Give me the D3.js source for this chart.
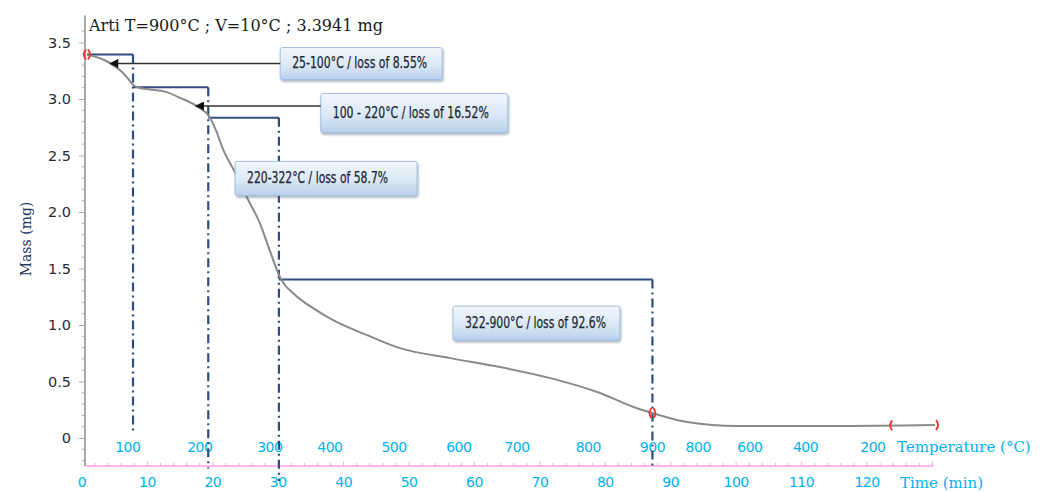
<!DOCTYPE html>
<html>
<head>
<meta charset="utf-8">
<script src="https://cdn.jsdelivr.net/npm/d3@7"></script>
<style>
  html, body { margin: 0; padding: 0; background: #fff; }
  svg { display: block; }
</style>
</head>
<body>
<svg id="chart" width="1046" height="492"></svg>
<script>
// Thermogravimetric curve: sample mass (mg) against time (min)
const timeMin = [0.76, 2.0, 3.4, 4.74, 6.0, 7.1, 7.8, 8.7, 10.4, 12.7, 15.0, 18.0, 19.4, 20.5, 21.6, 23.4, 25.2, 27.2, 28.7,
  30.3, 31.04, 32.11, 33.33, 35.32, 38.38, 43.6, 48.6, 56.3, 63.9, 71.6, 79.2, 84.3, 87.2, 92.5, 100.2, 114.8, 130.4];
const massMg = [3.394, 3.375, 3.345, 3.30, 3.245, 3.175, 3.125, 3.10, 3.085, 3.065, 3.01, 2.92, 2.85, 2.72, 2.55, 2.35, 2.13, 1.90, 1.66,
  1.42, 1.352, 1.290, 1.229, 1.149, 1.043, 0.91, 0.795, 0.707, 0.628, 0.530, 0.398, 0.274, 0.221, 0.141, 0.106, 0.106, 0.115];

const initialMass = 3.3941;
const titleText = "Arti T=900°C ; V=10°C ;  3.3941 mg";

// Decomposition stages: boundary times and cumulative loss (%) at each boundary
const stageTimes = [0.76, 7.8, 19.3, 30.1, 87.2];
const stageLoss = [0, 8.55, 16.52, 58.7, 92.6];
const stageLabels = ["25-100°C / loss of 8.55%", "100 - 220°C / loss of  16.52%", "220-322°C  / loss of 58.7%", "322-900°C  / loss of 92.6%"];
const guideBottomMg = [0.05, -0.27, -0.38, -0.28];

// Arrows from the first two labels to the curve (time of the arrow tip)
const arrowTimes = [4.3, 17.4];

// Axis ticks
const massTicks = [0, 0.5, 1.0, 1.5, 2.0, 2.5, 3.0, 3.5];
const timeTicks = [0, 10, 20, 30, 40, 50, 60, 70, 80, 90, 100, 110, 120];
const tempLabels = ["100", "200", "300", "400", "500", "600", "700", "800", "900", "800", "600", "400", "200"];
const tempLabelTimes = [7.0, 18.0, 28.7, 37.9, 47.7, 57.6, 66.5, 77.4, 87.2, 94.2, 102.1, 110.6, 120.9];

// Cursor markers on the curve
const cursorTimes = [0.76, 87.2, 124.0, 130.4];
const cursorKinds = ["both", "both", "left", "right"];

// ---------- layout ----------
const svg = d3.select("#chart");
const x = d3.scaleLinear().domain([0, 120]).range([82, 867]);
const y = d3.scaleLinear().domain([0, 3.5]).range([438, 42.5]);
const axisX = 85;
const massMin = -0.247, massMax = 3.74;
const timeEnd = 130.2;

const boxLayout = [
  { t: 30.3, m: 3.456, w: 162, h: 32, textW: 135 },
  { t: 36.5, m: 3.049, w: 187, h: 39, textW: 156 },
  { t: 23.4, m: 2.448, w: 182, h: 34, textW: 141 },
  { t: 56.7, m: 1.167, w: 167, h: 34, textW: 141 }
];

const navy = "#2f4d80";
const cyan = "#00b2ee";
const pink = "#ff9ff0";
const serif = "'DejaVu Serif', 'Liberation Serif', serif";
const sans = "'DejaVu Sans', Verdana, sans-serif";

const defs = svg.append("defs");
const grad = defs.append("linearGradient").attr("id", "boxFill").attr("x1", 0).attr("y1", 0).attr("x2", 0).attr("y2", 1);
grad.append("stop").attr("offset", "0%").attr("stop-color", "#f2f7fd");
grad.append("stop").attr("offset", "55%").attr("stop-color", "#dbe8f6");
grad.append("stop").attr("offset", "100%").attr("stop-color", "#b9d1ec");
const shadow = defs.append("filter").attr("id", "shadow").attr("x", "-10%").attr("y", "-20%").attr("width", "130%").attr("height", "160%");
shadow.append("feDropShadow").attr("dx", 1).attr("dy", 2).attr("stdDeviation", 1.3).attr("flood-color", "#556677").attr("flood-opacity", 0.45);
defs.append("marker").attr("id", "arrowHead").attr("viewBox", "0 0 10 10").attr("refX", 9).attr("refY", 5)
  .attr("markerWidth", 11).attr("markerHeight", 9).attr("markerUnits", "userSpaceOnUse").attr("orient", "auto")
  .append("path").attr("d", "M0,0 L10,5 L0,10 Z").attr("fill", "#111");

// ---------- mass axis ----------
const yAxisG = svg.append("g").attr("transform", `translate(${axisX},0)`);
yAxisG.append("line").attr("x1", 0).attr("x2", 0).attr("y1", y(massMax)).attr("y2", y(massMin))
  .attr("stroke", "#a8a8a8").attr("stroke-width", 2);
const minor = d3.range(-2, 37).map(d => d / 10).filter(d => Math.abs(d * 2 - Math.round(d * 2)) > 1e-6);
yAxisG.selectAll("line.minor").data(minor).join("line").attr("class", "minor")
  .attr("x1", -3).attr("x2", 0).attr("y1", d => y(d)).attr("y2", d => y(d)).attr("stroke", "#a8a8a8").attr("stroke-width", 1);
const yAxis = d3.axisLeft(y).tickValues(massTicks).tickSize(6).tickPadding(8)
  .tickFormat(d => d === 0 ? "0" : d3.format(".1f")(d));
const yAx = svg.append("g").attr("transform", `translate(${axisX},0)`).call(yAxis);
yAx.select(".domain").remove();
yAx.selectAll(".tick line").attr("stroke", "#a8a8a8");
yAx.selectAll(".tick text").attr("fill", "#2a2a30").attr("font-family", sans).attr("font-size", 14.5);

svg.append("text").attr("transform", `translate(31,239) rotate(-90)`).attr("text-anchor", "middle")
  .attr("font-family", serif).attr("font-size", 14).attr("fill", "#1f3864")
  .text("Mass (mg)");

// ---------- time axis (pink) ----------
const tAxisY = y(massMin);
svg.append("line").attr("x1", axisX).attr("x2", x(timeEnd)).attr("y1", tAxisY).attr("y2", tAxisY)
  .attr("stroke", pink).attr("stroke-width", 1.5);
svg.selectAll("line.tminor").data(d3.range(2, 131, 2)).join("line").attr("class", "tminor")
  .attr("x1", d => x(d)).attr("x2", d => x(d)).attr("y1", tAxisY).attr("y2", d => tAxisY - (d % 10 === 0 ? 4 : 3))
  .attr("stroke", pink).attr("stroke-width", 1);
svg.selectAll("text.time").data(timeTicks).join("text").attr("class", "time")
  .attr("x", d => x(d)).attr("y", tAxisY + 21).attr("text-anchor", "middle")
  .attr("font-family", sans).attr("font-size", 14).attr("fill", cyan)
  .style("letter-spacing", "-0.5px").text(d => d);
svg.append("text").attr("x", 900).attr("y", tAxisY + 22).attr("font-family", serif)
  .attr("font-size", 15).attr("fill", cyan).text("Time (min)");

// ---------- temperature labels ----------
svg.selectAll("text.temp").data(tempLabels).join("text").attr("class", "temp")
  .attr("x", (d, i) => x(tempLabelTimes[i])).attr("y", y(0) + 14).attr("text-anchor", "middle")
  .attr("font-family", sans).attr("font-size", 14).attr("fill", cyan)
  .style("letter-spacing", "-0.5px").text(d => d);
svg.append("text").attr("x", 897).attr("y", y(0) + 14).attr("font-family", serif)
  .attr("font-size", 15).attr("fill", cyan).text("Temperature (°C)");

// ---------- title ----------
svg.append("text").attr("x", 89).attr("y", 31).attr("font-family", serif)
  .attr("font-size", 16).attr("fill", "#1a1a1a").text(titleText);

// ---------- stage guides ----------
const stageMass = stageLoss.map(p => initialMass * (1 - p / 100));
const guides = svg.append("g");
for (let i = 0; i < 4; i++) {
  guides.append("line").attr("x1", x(stageTimes[i])).attr("x2", x(stageTimes[i + 1]))
    .attr("y1", y(stageMass[i])).attr("y2", y(stageMass[i])).attr("stroke", navy).attr("stroke-width", 2);
  guides.append("line").attr("x1", x(stageTimes[i + 1])).attr("x2", x(stageTimes[i + 1]))
    .attr("y1", y(stageMass[i])).attr("y2", y(guideBottomMg[i])).attr("stroke", navy).attr("stroke-width", 2.2)
    .attr("stroke-dasharray", "9,4,2,4");
}

// ---------- curve ----------
const curveData = timeMin.map((t, i) => [t, massMg[i]]);
svg.append("path").datum(curveData)
  .attr("d", d3.line().x(d => x(d[0])).y(d => y(d[1])).curve(d3.curveMonotoneX))
  .attr("fill", "none").attr("stroke", "#8a8a8a").attr("stroke-width", 2);

const massAt = t => {
  const i = d3.bisector(d => d).right(timeMin, t);
  if (i <= 0) return massMg[0];
  if (i >= timeMin.length) return massMg[massMg.length - 1];
  const f = (t - timeMin[i - 1]) / (timeMin[i] - timeMin[i - 1]);
  return massMg[i - 1] + f * (massMg[i] - massMg[i - 1]);
};

// cursor markers
const cursorG = svg.append("g").attr("fill", "none").attr("stroke", "#ff2a2a").attr("stroke-width", 1.8);
cursorTimes.forEach((t, i) => {
  const cx = x(t), cy = y(massAt(t));
  const kind = cursorKinds[i];
  if (kind === "both" || kind === "left")
    cursorG.append("path").attr("d", `M${cx - 1},${cy - 5} Q${cx - 5},${cy} ${cx - 1},${cy + 5}`);
  if (kind === "both" || kind === "right")
    cursorG.append("path").attr("d", `M${cx + 1},${cy - 5} Q${cx + 5},${cy} ${cx + 1},${cy + 5}`);
});

// ---------- annotation boxes ----------
const boxes = svg.append("g");
boxLayout.forEach((b, i) => {
  const bx = x(b.t), by = y(b.m);
  boxes.append("rect").attr("x", bx).attr("y", by).attr("width", b.w).attr("height", b.h).attr("rx", 2)
    .attr("fill", "url(#boxFill)").attr("stroke", "#a3c0e2").attr("stroke-width", 1).attr("filter", "url(#shadow)");
  boxes.append("text").attr("x", bx + 12).attr("y", by + b.h / 2 + 5)
    .attr("font-family", "'Liberation Sans Narrow', 'Arial Narrow', 'DejaVu Sans Condensed', sans-serif")
    .attr("font-size", 15).attr("fill", "#1e2630").attr("stroke", "#1e2630").attr("stroke-width", 0.25)
    .attr("textLength", b.textW).attr("lengthAdjust", "spacingAndGlyphs")
    .text(stageLabels[i]);
});

// arrows from labels to the curve
arrowTimes.forEach((t, i) => {
  const b = boxLayout[i];
  const ay = y(massAt(t));
  svg.append("line").attr("x1", x(b.t)).attr("x2", x(t)).attr("y1", ay).attr("y2", ay)
    .attr("stroke", "#333").attr("stroke-width", 1.6).attr("marker-end", "url(#arrowHead)");
});
</script>
</body>
</html>
